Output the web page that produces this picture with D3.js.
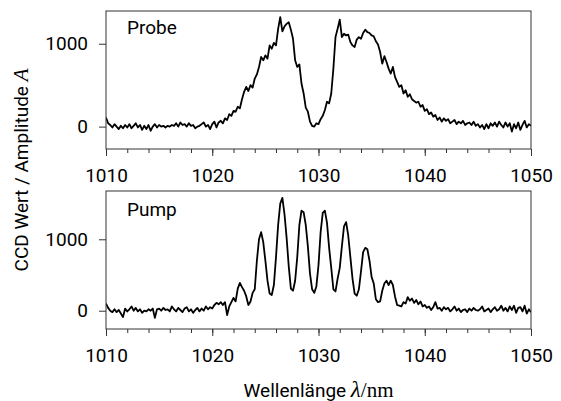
<!DOCTYPE html>
<html>
<head>
<meta charset="utf-8">
<script src="https://cdn.jsdelivr.net/npm/d3@7"></script>
<style>
  body { margin: 0; background: #fff; }
  text { font-family: Roboto, "Noto Sans", sans-serif; }
</style>
</head>
<body>
<div id="chart"></div>
<script>
// wavelength grid of the spectrometer, 0.2 nm steps
var lambdaStart = 1010, lambdaStep = 0.2;

// CCD counts, one row per nm (5 samples each)
var probe = [
  110, 40, 20, -10, 30,
  0, -30, 10, -20, 20,
  -10, 30, -20, 10, 40,
  -10, 20, -40, 10, -30,
  20, -50, 0, 30, -10,
  20, 0, 10, -10, 10,
  0, 20, 10, 40, 0,
  50, 20, 30, 0, 40,
  10, 20, -20, 0, 10,
  30, 50, 0, 20, -30,
  30, 60, -10, 50, 70,
  40, 100, 80, 150, 130,
  190, 180, 240, 220, 330,
  420, 480, 430, 500, 470,
  580, 630, 720, 840, 800,
  860, 820, 980, 940, 1010,
  980, 1180, 1320, 1150, 1210,
  1240, 1260, 1170, 1060, 800,
  720, 750, 520, 400, 230,
  180, 60, 10, 0, 40,
  30, 90, 130, 200, 300,
  280, 400, 700, 1080, 1180,
  1290, 1080, 1120, 1100, 1110,
  1020, 980, 960, 1050, 1080,
  1060, 1130, 1170, 1140, 1130,
  1100, 1090, 1030, 990, 900,
  760, 850, 780, 700, 640,
  720, 600, 540, 480, 500,
  400, 440, 360, 390, 330,
  310, 290, 300, 240, 260,
  190, 210, 150, 170, 120,
  140, 80, 110, 60, 100,
  70, 90, 40, 60, 80,
  30, 60, 40, 70, 20,
  40, 50, 20, 60, 10,
  30, -10, 20, -30, 30,
  -20, 40, 10, 50, 0,
  60, 20, -10, 50, 0,
  40, -60, 30, -20, 50,
  -40, 20, 70, -10, 30,
  10
];

var pump = [
  100, 40, 0, -20, 20,
  -20, 10, -40, -90, 30,
  -10, 20, 60, 0, 40,
  -10, 20, -30, 0, -10,
  20, 0, 30, -100, 20,
  30, 0, 40, 10, 20,
  -10, 60, 20, -10, 40,
  10, -20, 30, 50, -10,
  20, -30, 10, 40, -10,
  30, 0, 60, 20, 50,
  30, 80, 110, 90, 120,
  80, 120, -60, 60, 120,
  180, 130, 310, 390, 330,
  280, 200, 80, 130, 250,
  300, 700, 1000, 1100, 960,
  700, 420, 240, 220, 360,
  750, 1200, 1500, 1580, 1350,
  1020, 620, 310, 280, 420,
  750, 1200, 1400, 1380, 1200,
  900, 520, 300, 250, 340,
  640, 1100, 1370, 1400, 1230,
  880, 600, 300, 270, 450,
  600, 900, 1180, 1240, 1050,
  750, 450, 240, 210, 300,
  550, 820, 880, 860, 700,
  470, 380, 160, 120, 130,
  280, 380, 420, 360, 420,
  360, 200, 80, 70, 60,
  120, 100, 190, 140, 170,
  110, 150, 90, 130, 60,
  80, 40, 60, 10, 50,
  120, 30, 40, 0, 50,
  20, 40, -10, 20, 60,
  0, 30, -20, 10, 20,
  -20, 30, 0, 40, 10,
  0, 20, 60, -10, 10,
  30, -20, 20, 50, 0,
  20, 70, 0, 40, -10,
  60, 10, 70, -30, 40,
  50, -10, 70, -40, 20,
  -20
];

var xMajor = [1010, 1020, 1030, 1040, 1050];
var xMinor = d3.range(1010, 1051, 2);
var yTicks = [0, 1000];

var width = 561, height = 401;
var left = 106, plotW = 425, plotH = 138;

var svg = d3.select("#chart").append("svg")
  .attr("width", width)
  .attr("height", height);

var x = d3.scaleLinear().domain([1010, 1050]).range([left, left + plotW]);

var panels = [
  { name: "Probe", values: probe, top: 11, domain: [-270, 1395] },
  { name: "Pump", values: pump, top: 191, domain: [-256, 1676] }
];

panels.forEach(function(p, k) {
  var y = d3.scaleLinear().domain(p.domain).range([p.top + plotH, p.top]);
  var pts = p.values.map(function(v, i) {
    return { l: lambdaStart + i * lambdaStep, v: v };
  });

  var clipId = "clip" + k;
  svg.append("clipPath").attr("id", clipId)
    .append("rect")
    .attr("x", left).attr("y", p.top)
    .attr("width", plotW).attr("height", plotH);

  var line = d3.line()
    .x(function(d) { return x(d.l); })
    .y(function(d) { return y(d.v); });

  svg.append("path")
    .datum(pts)
    .attr("clip-path", "url(#" + clipId + ")")
    .attr("d", line)
    .attr("fill", "none")
    .attr("stroke", "#000")
    .attr("stroke-width", 1.8)
    .attr("stroke-linejoin", "round");

  // minor x ticks
  svg.append("g")
    .attr("transform", "translate(0," + (p.top + plotH) + ")")
    .call(d3.axisBottom(x).tickValues(xMinor).tickSize(4).tickFormat(""))
    .call(function(g) { g.select(".domain").remove(); })
    .selectAll("line").attr("stroke", "#333");

  var xa = svg.append("g")
    .attr("transform", "translate(0," + (p.top + plotH) + ")")
    .call(d3.axisBottom(x).tickValues(xMajor).tickSize(7).tickPadding(13).tickFormat(d3.format("d")));
  xa.select(".domain").remove();
  xa.selectAll("line").attr("stroke", "#333");
  xa.selectAll("text").attr("font-size", 19).attr("fill", "#000")
    .style("font-family", "Roboto, sans-serif");

  var ya = svg.append("g")
    .attr("transform", "translate(" + left + ",0)")
    .call(d3.axisLeft(y).tickValues(yTicks).tickSize(7).tickPadding(11).tickFormat(d3.format("d")));
  ya.select(".domain").remove();
  ya.selectAll("line").attr("stroke", "#333");
  ya.selectAll("text").attr("font-size", 19).attr("fill", "#000")
    .style("font-family", "Roboto, sans-serif");

  svg.append("rect")
    .attr("x", left).attr("y", p.top)
    .attr("width", plotW).attr("height", plotH)
    .attr("fill", "none")
    .attr("stroke", "#333")
    .attr("stroke-width", 1);

  svg.append("text")
    .attr("x", left + 21)
    .attr("y", p.top + (k === 0 ? 23 : 25))
    .attr("font-size", 19)
    .text(p.name);
});

// axis titles
var xt = svg.append("text")
  .attr("x", left + plotW / 2)
  .attr("y", 397)
  .attr("text-anchor", "middle")
  .attr("font-size", 19);
xt.append("tspan").text("Wellenlänge ");
xt.append("tspan").attr("font-family", "Liberation Serif, serif").attr("font-style", "italic")
  .attr("font-size", 23).text("λ");
xt.append("tspan").attr("font-family", "Liberation Serif, serif").attr("font-size", 21).text("/nm");

var yt = svg.append("text")
  .attr("transform", "translate(28,170) rotate(-90)")
  .attr("text-anchor", "middle")
  .attr("font-size", 19);
yt.append("tspan").text("CCD Wert / Amplitude ");
yt.append("tspan").attr("font-family", "Liberation Serif, serif").attr("font-style", "italic")
  .attr("font-size", 21).text("A");
</script>
</body>
</html>
